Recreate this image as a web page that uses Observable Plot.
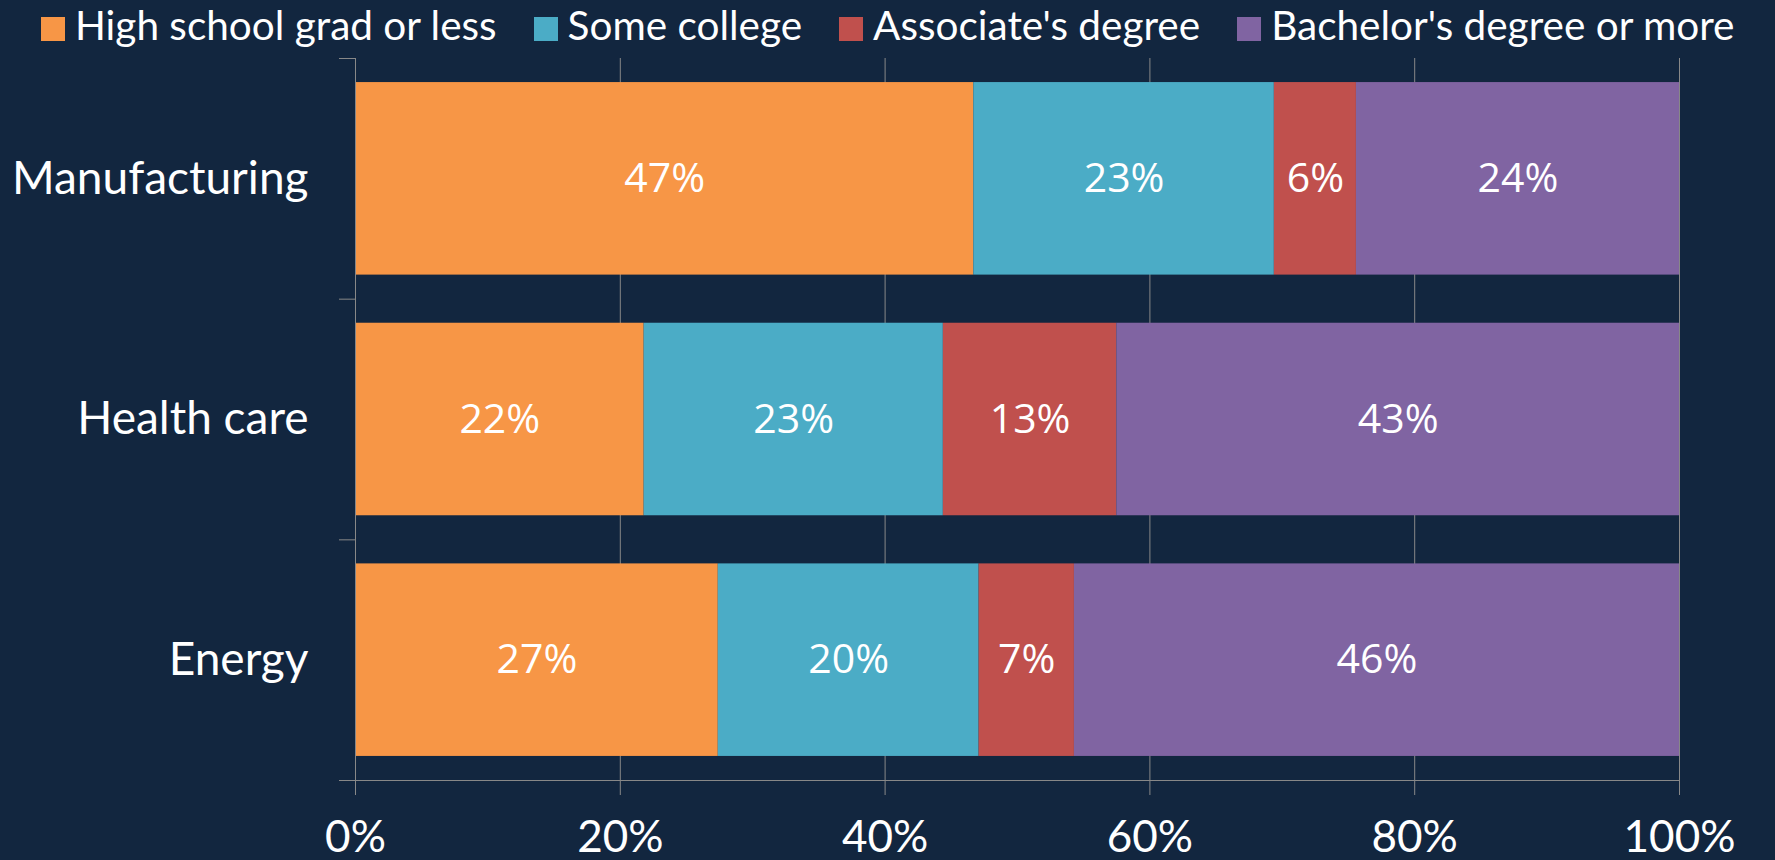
<!DOCTYPE html>
<html><head><meta charset="utf-8">
<script src="https://cdn.jsdelivr.net/npm/d3@7"></script>
<script src="https://cdn.jsdelivr.net/npm/@observablehq/plot@0.6"></script>
<style>
html,body{margin:0;padding:0;background:#12263f;}
#legend{display:flex;height:50px;padding-left:41px;align-items:center;gap:37px;font-family:Lato;font-size:40.5px;color:#fff;}
.item{display:flex;align-items:center;}
.sw{width:24px;height:24px;margin-right:10px;margin-top:8px;flex:none;}
.item span{line-height:1;white-space:nowrap;}
</style></head><body>
<div id="legend"></div><div id="chart"></div>
<script>
const categories = ["Manufacturing", "Health care", "Energy"];
const levels = ["High school grad or less", "Some college", "Associate's degree", "Bachelor's degree or more"];
const colors = ["#F79646", "#4BACC6", "#C0504D", "#8064A2"];
const manufacturing = [46.7, 22.7, 6.2, 24.4];
const healthCare = [21.8, 22.6, 13.1, 42.5];
const energy = [27.4, 19.7, 7.2, 45.7];
const xTicks = [0, 20, 40, 60, 80, 100];

const series = [manufacturing, healthCare, energy];
const rows = categories.flatMap((c, ci) => {
  let acc = 0;
  return levels.map((l, li) => {
    const v = series[ci][li];
    const r = {category: c, ci, level: l, value: v, x1: acc, x2: acc + v};
    acc += v;
    return r;
  });
});

const legend = document.getElementById("legend");
levels.forEach((l, i) => {
  const it = document.createElement("div");
  it.className = "item";
  it.innerHTML = `<div class="sw" style="background:${colors[i]}"></div><span>${l}</span>`;
  legend.appendChild(it);
});

const grid = "#888888";
const chart = Plot.plot({
  width: 1775,
  height: 810,
  marginLeft: 355,
  marginRight: 96,
  marginTop: 8,
  marginBottom: 80,
  style: {background: "transparent", color: "white", fontFamily: "Lato", overflow: "visible"},
  x: {domain: [0, 100], axis: null},
  y: {domain: [0, 3], reverse: true, axis: null},
  color: {domain: levels, range: colors},
  marks: [
    Plot.ruleX(xTicks.slice(1), {stroke: grid}),
    Plot.rectX(rows, {x1: "x1", x2: "x2", y1: d => d.ci + 0.1, y2: d => d.ci + 0.9, fill: "level"}),
    Plot.ruleX([0], {stroke: grid}),
    Plot.ruleY([3], {stroke: grid}),
    Plot.text(rows, {x: d => (d.x1 + d.x2) / 2, y: d => d.ci + 0.5, text: d => `${Math.round(d.value)}%`, fill: "white", fontSize: 41, fontFamily: "Open Sans"}),
    Plot.axisX(xTicks, {tickSize: 15, tickPadding: 25, tickFormat: d => d + "%", stroke: grid, fill: "white", fontSize: 44, fontFamily: "Lato", label: null}),
    Plot.axisY([0, 1, 2, 3], {tickSize: 16, tickFormat: () => "", stroke: grid, label: null}),
    Plot.axisY([0.5, 1.5, 2.5], {tickSize: 0, tickPadding: 47, tickFormat: d => categories[Math.floor(d)], fill: "white", fontSize: 46, fontFamily: "Lato", label: null})
  ]
});
document.getElementById("chart").appendChild(chart);
</script>
</body></html>
